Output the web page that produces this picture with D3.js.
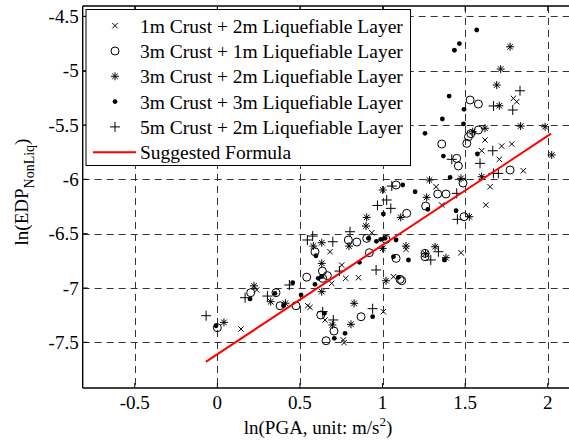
<!DOCTYPE html>
<html>
  <head>
    <style>
      body, html { margin: 0; padding: 0; background: #fff; }
      svg { display: block; font-family: 'Liberation Serif', 'Times New Roman', serif; }
    </style>
  </head>
  <body>
    <svg id="svg" width="569" height="443"></svg>
    <script src="https://cdn.jsdelivr.net/npm/d3@7"></script>
    <script>
      // values: [ln(PGA), ln(EDP)]
      const crust1Liq2 = [
        [0.143, -7.377], [0.238, -7.018], [0.547, -7.163], [0.561, -7.178], [0.652, -7.294],
        [0.763, -7.478], [0.767, -7.503], [1.005, -7.218], [0.682, -6.666], [0.692, -6.957],
        [0.753, -6.789], [0.777, -6.911], [0.854, -6.905], [0.935, -6.491], [1.066, -6.896],
        [1.142, -6.644], [1.324, -6.068], [1.358, -6.236], [1.475, -6.675], [1.62, -5.638],
        [1.721, -5.694], [1.782, -5.675], [1.6, -5.737], [1.707, -5.816], [1.852, -5.921],
        [1.651, -6.068], [1.625, -6.236], [1.792, -5.255], [1.812, -5.286]
      ];
      const crust3Liq1 = [
        [0.0, -7.365], [0.202, -7.043], [0.355, -7.043], [0.38, -7.163], [0.476, -7.163],
        [0.541, -6.9], [0.591, -6.666], [0.636, -6.844], [0.666, -6.886], [0.638, -6.911],
        [0.793, -6.558], [0.844, -6.577], [0.904, -6.543], [0.92, -6.675], [0.626, -7.248],
        [0.706, -7.396], [0.658, -7.485], [0.87, -7.264], [1.021, -6.552], [1.082, -6.727],
        [1.106, -6.92], [1.116, -6.933], [1.146, -6.313], [1.082, -6.052], [1.257, -6.681],
        [1.257, -6.712], [1.261, -6.246], [1.334, -6.135], [1.384, -6.135], [1.493, -6.344],
        [1.487, -6.034], [1.449, -5.807], [1.459, -5.877], [1.358, -5.675], [1.51, -5.669],
        [1.52, -5.608], [1.534, -5.58], [1.58, -5.546], [1.53, -5.27], [1.58, -5.307],
        [1.772, -5.914]
      ];
      const crust3Liq2 = [
        [0.04, -7.316], [0.222, -6.98], [0.323, -7.126], [0.412, -7.14], [0.581, -6.614],
        [0.632, -6.583], [0.632, -6.773], [0.632, -7.034], [0.797, -6.614], [0.904, -6.35],
        [0.9, -6.43], [0.696, -7.34], [0.809, -7.334], [0.828, -7.141], [1.001, -6.098],
        [1.11, -6.35], [1.001, -6.635], [1.142, -6.614], [1.021, -6.933], [1.26, -6.685],
        [1.318, -6.62], [1.384, -6.721], [1.284, -6.006], [1.267, -6.166], [1.475, -5.991],
        [1.525, -6.344], [1.6, -5.976], [1.546, -5.562], [1.62, -5.53], [1.836, -5.51],
        [1.984, -5.516], [2.024, -5.776], [1.772, -4.78], [1.715, -4.985], [1.691, -5.132],
        [1.707, -5.323]
      ];
      const crust3Liq3 = [
        [-0.008, -7.347], [0.198, -7.1], [0.349, -7.05], [0.4, -7.163], [0.456, -6.951],
        [0.507, -7.064], [0.597, -6.703], [0.611, -6.911], [0.632, -6.896], [0.591, -6.966],
        [0.86, -6.764], [0.914, -6.543], [0.963, -6.57], [0.989, -6.552], [1.015, -6.543],
        [0.648, -7.233], [0.708, -7.463], [0.773, -7.417], [0.94, -7.264], [1.005, -6.319],
        [1.082, -6.558], [1.066, -6.712], [1.157, -6.742], [1.096, -6.902], [1.122, -6.052],
        [1.197, -6.114], [1.274, -6.276], [1.374, -6.742], [1.445, -6.289], [1.409, -5.982],
        [1.368, -5.786], [1.574, -5.767], [1.257, -5.577], [1.362, -5.445], [1.49, -5.49],
        [1.493, -5.356], [1.403, -5.234], [1.435, -4.812], [1.465, -4.751], [1.57, -4.626]
      ];
      const crust5Liq2 = [
        [-0.068, -7.255], [0.168, -7.089], [0.303, -7.074], [0.436, -6.972], [0.545, -6.558],
        [0.577, -6.522], [0.699, -6.574], [0.803, -6.482], [0.739, -6.844], [0.969, -6.24],
        [1.025, -6.19], [1.05, -6.267], [0.961, -6.834], [0.638, -7.218], [0.702, -7.294],
        [0.94, -7.19], [1.056, -6.062], [1.292, -6.742], [1.338, -6.666], [1.453, -6.368],
        [1.449, -6.129], [1.419, -5.816], [1.59, -5.853], [1.667, -5.737], [1.671, -5.945],
        [1.701, -5.945], [1.672, -5.325], [1.788, -5.362], [1.832, -5.185]
      ];
      const formulaX = [-0.07, 2.02];
      const formulaY = [-7.68, -5.58];

      const legendNames = [
        '1m Crust + 2m Liquefiable Layer',
        '3m Crust + 1m Liquefiable Layer',
        '3m Crust + 2m Liquefiable Layer',
        '3m Crust + 3m Liquefiable Layer',
        '5m Crust + 2m Liquefiable Layer',
        'Suggested Formula'
      ];
      const xTicks = [-0.5, 0, 0.5, 1, 1.5, 2];
      const yTicks = [-7.5, -7, -6.5, -6, -5.5, -5, -4.5];

      const plotLeft = 82.7, plotRight = 580.8, plotTop = 6, plotBottom = 388;
      const xScale = d3.scaleLinear().domain([-0.815, 2.2]).range([plotLeft, plotRight]);
      const yScale = d3.scaleLinear().domain([-7.92, -4.405]).range([plotBottom, plotTop]);

      const svg = d3.select('#svg');
      svg.append('defs').append('clipPath').attr('id', 'plot')
        .append('rect').attr('x', plotLeft).attr('y', plotTop)
        .attr('width', plotRight - plotLeft).attr('height', plotBottom - plotTop);

      // grid
      const grid = svg.append('g').attr('stroke', '#333').attr('stroke-width', 1)
        .attr('stroke-dasharray', '7,5');
      grid.selectAll('.gx').data(xTicks).enter().append('line')
        .attr('x1', (d) => Math.round(xScale(d)) + 0.5).attr('x2', (d) => Math.round(xScale(d)) + 0.5)
        .attr('y1', plotTop).attr('y2', plotBottom);
      grid.selectAll('.gy').data(yTicks).enter().append('line')
        .attr('y1', (d) => Math.round(yScale(d)) + 0.5).attr('y2', (d) => Math.round(yScale(d)) + 0.5)
        .attr('x1', plotLeft).attr('x2', plotRight);

      const markers = {
        cross: 'M-2.7,-2.7L2.7,2.7M-2.7,2.7L2.7,-2.7',
        plus: 'M-5,0H5M0,-5V5',
        star: 'M-4,0H4M0,-4V4M-2.8,-2.8L2.8,2.8M-2.8,2.8L2.8,-2.8'
      };
      const drawMarker = (sel, type) => {
        if (type === 'circle') {
          sel.append('circle').attr('r', 4).attr('fill', 'none').attr('stroke', '#000').attr('stroke-width', 1);
        } else if (type === 'dot') {
          sel.append('circle').attr('r', 2.4).attr('fill', '#000');
        } else {
          sel.append('path').attr('d', markers[type]).attr('fill', 'none')
            .attr('stroke', '#000').attr('stroke-width', 1);
        }
      };

      const series = [
        { data: crust1Liq2, type: 'cross' },
        { data: crust3Liq1, type: 'circle' },
        { data: crust3Liq2, type: 'star' },
        { data: crust3Liq3, type: 'dot' },
        { data: crust5Liq2, type: 'plus' }
      ];

      const plot = svg.append('g').attr('clip-path', 'url(#plot)');
      series.forEach((s) => {
        plot.append('g').selectAll('g').data(s.data).enter().append('g')
          .attr('transform', (d) => `translate(${xScale(d[0])},${yScale(d[1])})`)
          .each(function () { drawMarker(d3.select(this), s.type); });
      });

      const line = d3.line().x((d) => xScale(d)).y((d, i) => yScale(formulaY[i]));
      plot.append('path').attr('d', line(formulaX))
        .attr('fill', 'none').attr('stroke', '#ff0000').attr('stroke-width', 2);

      // axes frame and ticks
      const frame = svg.append('g').attr('stroke', '#000').attr('stroke-width', 1.4);
      frame.append('line').attr('x1', plotLeft).attr('x2', plotLeft).attr('y1', plotTop).attr('y2', plotBottom);
      frame.append('line').attr('x1', plotLeft).attr('x2', plotRight).attr('y1', plotBottom).attr('y2', plotBottom);
      frame.append('line').attr('x1', plotLeft).attr('x2', plotRight).attr('y1', plotTop).attr('y2', plotTop);
      frame.selectAll('.tx').data(xTicks).enter().append('line')
        .attr('x1', (d) => xScale(d)).attr('x2', (d) => xScale(d))
        .attr('y1', plotBottom).attr('y2', plotBottom - 5).attr('stroke-width', 1);
      frame.selectAll('.tx2').data(xTicks).enter().append('line')
        .attr('x1', (d) => xScale(d)).attr('x2', (d) => xScale(d))
        .attr('y1', plotTop).attr('y2', plotTop + 5).attr('stroke-width', 1);
      frame.selectAll('.ty').data(yTicks).enter().append('line')
        .attr('y1', (d) => yScale(d)).attr('y2', (d) => yScale(d))
        .attr('x1', plotLeft).attr('x2', plotLeft + 5).attr('stroke-width', 1);

      svg.append('g').selectAll('text').data(xTicks).enter().append('text')
        .attr('x', (d) => xScale(d)).attr('y', plotBottom + 21)
        .attr('text-anchor', 'middle').attr('font-size', 19).text((d) => d);
      svg.append('g').selectAll('text').data(yTicks).enter().append('text')
        .attr('x', plotLeft - 4).attr('y', (d) => yScale(d) + 6.5)
        .attr('text-anchor', 'end').attr('font-size', 19).text((d) => d);

      // axis labels
      const xl = svg.append('text').attr('x', 318).attr('y', 434)
        .attr('text-anchor', 'middle').attr('font-size', 19);
      xl.append('tspan').text('ln(PGA, unit: m/s');
      xl.append('tspan').attr('font-size', 13).attr('dy', -8).text('2');
      xl.append('tspan').attr('dy', 8).text(')');

      const yl = svg.append('text').attr('transform', 'translate(28,192) rotate(-90)')
        .attr('text-anchor', 'middle').attr('font-size', 19);
      yl.append('tspan').text('ln(EDP');
      yl.append('tspan').attr('font-size', 14).attr('dy', 6).text('NonLiq');
      yl.append('tspan').attr('dy', -6).text(')');

      // legend
      const lg = svg.append('g');
      lg.append('rect').attr('x', 86).attr('y', 9.5).attr('width', 324.5).attr('height', 156)
        .attr('fill', '#fff').attr('stroke', '#000').attr('stroke-width', 1);
      const rowY = (i) => 25.7 + i * 25.3;
      series.forEach((s, i) => {
        const g = lg.append('g').attr('transform', `translate(115,${rowY(i)})`);
        drawMarker(g, s.type);
      });
      lg.append('line').attr('x1', 93).attr('x2', 136)
        .attr('y1', rowY(5)).attr('y2', rowY(5))
        .attr('stroke', '#ff0000').attr('stroke-width', 2);
      lg.selectAll('.lt').data(legendNames).enter().append('text')
        .attr('x', 140).attr('y', (d, i) => rowY(i) + 7)
        .attr('font-size', 19.5).text((d) => d);
    </script>
  </body>
</html>
